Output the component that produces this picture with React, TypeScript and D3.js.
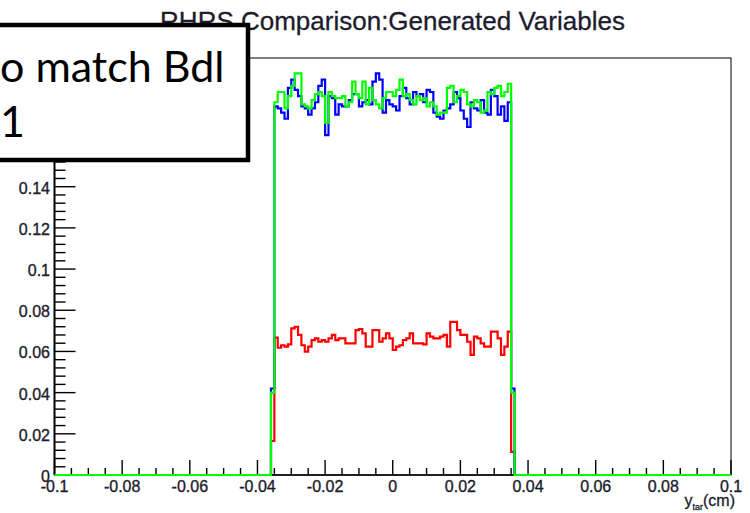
import React, { useEffect, useRef } from 'react';
import * as d3 from 'd3';

// bin contents, 0.001 cm bins from -0.035 to 0.035
const greenVals = [
  0.181, 0.186, 0.186, 0.178, 0.184, 0.189, 0.195, 0.195, 0.180, 0.179,
  0.178, 0.182, 0.185, 0.186, 0.184, 0.171, 0.186, 0.184, 0.183, 0.183,
  0.184, 0.179, 0.181, 0.191, 0.185, 0.183, 0.191, 0.180, 0.188, 0.182,
  0.180, 0.178, 0.183, 0.186, 0.186,
  0.184, 0.187, 0.192, 0.184, 0.185, 0.182, 0.180, 0.184, 0.182, 0.183,
  0.179, 0.181, 0.179, 0.175, 0.176, 0.176, 0.188, 0.189, 0.181, 0.184,
  0.187, 0.186, 0.180, 0.179, 0.182, 0.181, 0.176, 0.177, 0.186, 0.185,
  0.188, 0.189, 0.184, 0.186, 0.190,
];
const blueVals = [
  0.179, 0.178, 0.176, 0.173, 0.188, 0.192, 0.187, 0.184, 0.179, 0.178,
  0.175, 0.178, 0.181, 0.189, 0.192, 0.165, 0.184, 0.183, 0.175, 0.180,
  0.179, 0.179, 0.182, 0.185, 0.185, 0.179, 0.181, 0.182, 0.180, 0.191,
  0.195, 0.192, 0.176, 0.182, 0.180,
  0.179, 0.177, 0.184, 0.188, 0.183, 0.180, 0.186, 0.184, 0.185, 0.181,
  0.187, 0.186, 0.176, 0.174, 0.173, 0.177, 0.178, 0.180, 0.186, 0.183,
  0.177, 0.173, 0.169, 0.181, 0.178, 0.177, 0.182, 0.176, 0.175, 0.187,
  0.184, 0.175, 0.179, 0.172, 0.181,
];
const redVals = [
  0.0667, 0.0618, 0.0630, 0.0623, 0.0634, 0.0712, 0.0720, 0.0680, 0.0630, 0.0599,
  0.0623, 0.0655, 0.0663, 0.0647, 0.0655, 0.0647, 0.0663, 0.0680, 0.0655, 0.0663,
  0.0663, 0.0639, 0.0639, 0.0639, 0.0704, 0.0709, 0.0688, 0.0623, 0.0623, 0.0704,
  0.0704, 0.0647, 0.0663, 0.0688, 0.0663,
  0.0607, 0.0623, 0.0630, 0.0655, 0.0663, 0.0688, 0.0639, 0.0639, 0.0639, 0.0634,
  0.0688, 0.0672, 0.0663, 0.0663, 0.0672, 0.0680, 0.0623, 0.0744, 0.0744, 0.0704,
  0.0680, 0.0680, 0.0647, 0.0583, 0.0672, 0.0663, 0.0639, 0.0623, 0.0623, 0.0696,
  0.0696, 0.0663, 0.0583, 0.0623, 0.0696,
];
// edge bins: -0.036..-0.035 and 0.035..0.036
const greenEdges = [0.040, 0.040];
const blueEdges = [0.042, 0.042];
const redEdges = [0.0165, 0.0112];

const xTicks = [-0.1, -0.08, -0.06, -0.04, -0.02, 0, 0.02, 0.04, 0.06, 0.08, 0.1];
const xTickLabels = ['-0.1', '-0.08', '-0.06', '-0.04', '-0.02', '0', '0.02', '0.04', '0.06', '0.08', '0.1'];
const yTicks = [0, 0.02, 0.04, 0.06, 0.08, 0.1, 0.12, 0.14, 0.16, 0.18, 0.2];
const yTickLabels = ['0', '0.02', '0.04', '0.06', '0.08', '0.1', '0.12', '0.14', '0.16', '0.18', '0.2'];

const title = 'RHRS Comparison:Generated Variables';

const App = () => {
  const svgRef = useRef<SVGSVGElement>(null);

  useEffect(() => {
    const width = 750;
    const height = 513;
    const svg = d3.select(svgRef.current);
    svg.selectAll('*').remove();
    svg.attr('width', width).attr('height', height);

    svg.append('rect').attr('width', width).attr('height', height).attr('fill', '#fff');

    const x = d3.scaleLinear().domain([-0.1, 0.1]).range([54.5, 731]);
    const y = d3.scaleLinear().domain([0, 0.2025]).range([475, 58]);

    const labelFont = '"Liberation Sans", Arial, sans-serif';
    const ink = '#1c1c2c';

    // title
    svg.append('text')
      .attr('x', 392.5)
      .attr('y', 30)
      .attr('text-anchor', 'middle')
      .style('font-family', labelFont)
      .style('font-size', '26px')
      .style('fill', ink)
      .style('stroke', ink)
      .style('stroke-width', 0.3)
      .text(title);

    // frame
    svg.append('rect')
      .attr('x', x(-0.1))
      .attr('y', y(0.2025))
      .attr('width', x(0.1) - x(-0.1))
      .attr('height', y(0) - y(0.2025))
      .attr('fill', 'none')
      .attr('stroke', '#000')
      .attr('stroke-width', 1);

    // y ticks (inward)
    const g = svg.append('g').attr('stroke', '#000').attr('stroke-width', 1.4);
    d3.range(0, 51).forEach(i => {
      const v = i * 0.004;
      const major = i % 5 === 0;
      g.append('line')
        .attr('x1', x(-0.1)).attr('x2', x(-0.1) + (major ? 21 : 11))
        .attr('y1', y(v)).attr('y2', y(v));
    });
    // x ticks (inward)
    d3.range(0, 41).forEach(i => {
      const v = -0.1 + i * 0.005;
      const major = i % 4 === 0;
      g.append('line')
        .attr('x1', x(v)).attr('x2', x(v))
        .attr('y1', y(0)).attr('y2', y(0) - (major ? 15 : 7));
    });
    // axis lines
    svg.append('line')
      .attr('x1', x(-0.1)).attr('x2', x(-0.1))
      .attr('y1', y(0)).attr('y2', y(0.2025))
      .attr('stroke', '#000').attr('stroke-width', 2);
    svg.append('line')
      .attr('x1', x(-0.1)).attr('x2', x(0.1))
      .attr('y1', y(0)).attr('y2', y(0))
      .attr('stroke', '#000').attr('stroke-width', 1.5);

    // tick labels
    svg.selectAll('.ylab')
      .data(yTicks)
      .enter()
      .append('text')
      .attr('class', 'ylab')
      .attr('x', 50)
      .attr('y', d => y(d) + 7)
      .attr('text-anchor', 'end')
      .style('font-family', labelFont)
      .style('font-size', '16px')
      .style('fill', ink)
      .style('stroke', ink)
      .style('stroke-width', 0.35)
      .text((d, i) => yTickLabels[i]);

    svg.selectAll('.xlab')
      .data(xTicks)
      .enter()
      .append('text')
      .attr('class', 'xlab')
      .attr('x', d => x(d))
      .attr('y', 492)
      .attr('text-anchor', 'middle')
      .style('font-family', labelFont)
      .style('font-size', '16px')
      .style('fill', ink)
      .style('stroke', ink)
      .style('stroke-width', 0.35)
      .text((d, i) => xTickLabels[i]);

    // axis title y_tar (cm)
    const at = svg.append('text')
      .attr('x', 735)
      .attr('y', 506)
      .attr('text-anchor', 'end')
      .style('font-family', labelFont)
      .style('font-size', '16px')
      .style('fill', ink)
      .style('stroke', ink)
      .style('stroke-width', 0.3);
    at.append('tspan').text('y');
    at.append('tspan').attr('dy', 4).style('font-size', '9px').text('tar');
    at.append('tspan').attr('dy', -4).text('(cm)');

    // histograms as step outlines
    const binLo = -0.036;
    const binW = 0.001;
    const steps = (vals: number[], edges: number[]) => {
      const all = [edges[0], ...vals, edges[1]];
      const pts = [{ x: -0.1, v: 0 }];
      all.forEach((v, i) => pts.push({ x: binLo + i * binW, v }));
      pts.push({ x: binLo + all.length * binW, v: 0 });
      pts.push({ x: 0.1, v: 0 });
      return pts;
    };
    const line = d3.line<{ x: number; v: number }>()
      .x(d => x(d.x))
      .y(d => y(d.v))
      .curve(d3.curveStepAfter);

    const series = [
      { vals: redVals, edges: redEdges, color: '#ff0000' },
      { vals: blueVals, edges: blueEdges, color: '#0000ff' },
      { vals: greenVals, edges: greenEdges, color: '#00ff00' },
    ];
    series.forEach(s => {
      svg.append('path')
        .attr('d', line(steps(s.vals, s.edges)))
        .attr('fill', 'none')
        .attr('stroke', s.color)
        .attr('stroke-width', 2.2);
    });

    // overlaid note box
    svg.append('rect')
      .attr('x', -10)
      .attr('y', 25)
      .attr('width', 258)
      .attr('height', 135)
      .attr('fill', '#fff')
      .attr('stroke', '#000')
      .attr('stroke-width', 4.5);
    const noteFont = 'Lato, "Open Sans", sans-serif';
    svg.append('text')
      .attr('x', 0)
      .attr('y', 82)
      .style('font-family', noteFont)
      .style('font-size', '43px')
      .style('fill', '#000')
      .text('o match Bdl');
    svg.append('text')
      .attr('x', 0)
      .attr('y', 137)
      .style('font-family', noteFont)
      .style('font-size', '43px')
      .style('fill', '#000')
      .text('1');
  }, []);

  return (
    <div style={{ position: 'absolute', left: 0, top: 0 }}>
      <svg ref={svgRef}></svg>
    </div>
  );
};

export default App;
